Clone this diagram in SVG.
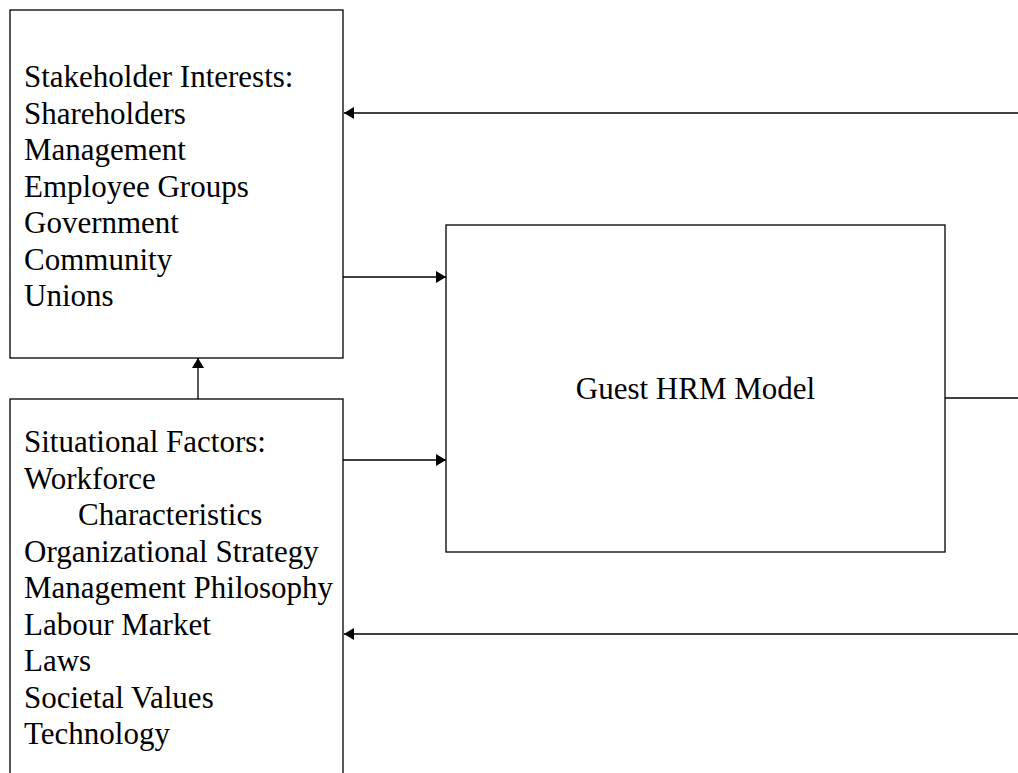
<svg xmlns="http://www.w3.org/2000/svg" width="1018" height="773" viewBox="0 0 1018 773">
<style>
.box{fill:#fff;stroke:#000;stroke-width:1.3}
.t{font-family:"Liberation Serif","Times New Roman",serif;font-size:31px;fill:#000}
.c{fill:none;stroke:#000;stroke-width:1.3}
</style>
<defs>
<marker id="ah" markerWidth="10" markerHeight="12" refX="10" refY="6" orient="auto" markerUnits="userSpaceOnUse">
<path d="M0,0 L10,6 L0,12 Z" fill="#000"/>
</marker>
</defs>
<rect width="1018" height="773" fill="#fff"/>
<g id="stakeholder">
<rect class="box" x="10" y="10" width="333" height="348"/>
<text class="t" x="24" y="87">Stakeholder Interests:</text>
<text class="t" x="24" y="123.5">Shareholders</text>
<text class="t" x="24" y="160">Management</text>
<text class="t" x="24" y="196.5">Employee Groups</text>
<text class="t" x="24" y="233">Government</text>
<text class="t" x="24" y="269.5">Community</text>
<text class="t" x="24" y="306">Unions</text>
</g>
<g id="situational">
<rect class="box" x="10" y="399" width="333" height="390"/>
<text class="t" x="24" y="452">Situational Factors:</text>
<text class="t" x="24" y="488.5">Workforce</text>
<text class="t" x="78" y="525">Characteristics</text>
<text class="t" x="24" y="561.5">Organizational Strategy</text>
<text class="t" x="24" y="598">Management Philosophy</text>
<text class="t" x="24" y="634.5">Labour Market</text>
<text class="t" x="24" y="671">Laws</text>
<text class="t" x="24" y="707.5">Societal Values</text>
<text class="t" x="24" y="744">Technology</text>
</g>
<g id="guest">
<rect class="box" x="446" y="225" width="499" height="327"/>
<text class="t" x="695.5" y="399" text-anchor="middle">Guest HRM Model</text>
</g>
<g id="connectors">
<line class="c" x1="1018" y1="113" x2="344" y2="113" marker-end="url(#ah)"/>
<line class="c" x1="343" y1="277" x2="446" y2="277" marker-end="url(#ah)"/>
<line class="c" x1="343" y1="460" x2="446" y2="460" marker-end="url(#ah)"/>
<line class="c" x1="1018" y1="634" x2="344" y2="634" marker-end="url(#ah)"/>
<line class="c" x1="945" y1="398" x2="1018" y2="398"/>
<line class="c" x1="198" y1="399" x2="198" y2="358" marker-end="url(#ah)"/>
</g>
</svg>
